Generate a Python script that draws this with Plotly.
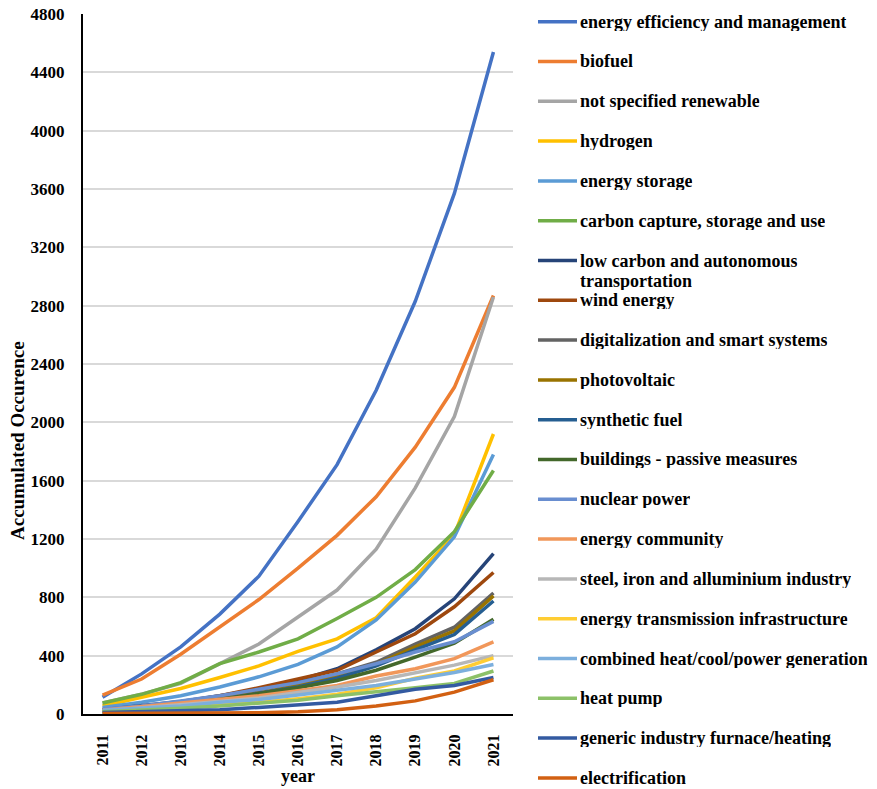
import plotly.graph_objects as go

# Accumulated occurrences of energy-transition topics, 2011-2021
years = [2011, 2012, 2013, 2014, 2015, 2016, 2017, 2018, 2019, 2020, 2021]

series_names = [
    "energy efficiency and management",
    "biofuel",
    "not specified renewable",
    "hydrogen",
    "energy storage",
    "carbon capture, storage and use",
    "low carbon and autonomous<br>transportation",
    "wind energy",
    "digitalization and smart systems",
    "photovoltaic",
    "synthetic fuel",
    "buildings - passive measures",
    "nuclear power",
    "energy community",
    "steel, iron and alluminium industry",
    "energy transmission infrastructure",
    "combined heat/cool/power generation",
    "heat pump",
    "generic industry furnace/heating",
    "electrification",
]

energy_efficiency = [115, 275, 460, 685, 945, 1320, 1710, 2220, 2830, 3570, 4540]
biofuel = [130, 240, 410, 595, 785, 1000, 1225, 1490, 1830, 2240, 2870]
not_specified_renewable = [75, 135, 210, 345, 480, 665, 850, 1130, 1550, 2040, 2860]
hydrogen = [55, 115, 175, 250, 330, 430, 515, 660, 940, 1230, 1920]
energy_storage = [45, 80, 125, 185, 255, 340, 460, 645, 905, 1215, 1780]
carbon_capture = [75, 135, 215, 345, 425, 515, 655, 800, 990, 1250, 1670]
low_carbon_transport = [30, 55, 85, 125, 170, 230, 310, 440, 585, 790, 1100]
wind_energy = [25, 45, 80, 125, 180, 240, 300, 425, 550, 735, 970]
digitalization = [25, 50, 80, 120, 165, 215, 275, 355, 480, 595, 830]
photovoltaic = [20, 40, 70, 105, 145, 195, 255, 340, 460, 570, 810]
synthetic_fuel = [20, 40, 65, 100, 140, 185, 245, 330, 440, 545, 775]
buildings_passive = [20, 40, 65, 100, 140, 180, 230, 300, 390, 485, 650]
nuclear_power = [35, 55, 90, 125, 170, 215, 275, 345, 425, 495, 635]
energy_community = [25, 50, 80, 105, 125, 160, 195, 260, 310, 380, 495]
steel_industry = [20, 40, 60, 85, 110, 145, 185, 230, 285, 335, 400]
transmission = [15, 30, 50, 65, 80, 105, 135, 180, 245, 295, 385]
chp_generation = [25, 40, 55, 80, 100, 130, 165, 195, 240, 285, 340]
heat_pump = [15, 25, 40, 55, 75, 95, 125, 150, 180, 210, 295]
industry_furnace = [10, 15, 20, 30, 45, 65, 80, 125, 170, 195, 250]
electrification = [3, 4, 5, 5, 8, 15, 30, 55, 90, 150, 235]

series_values = [
    energy_efficiency, biofuel, not_specified_renewable, hydrogen, energy_storage,
    carbon_capture, low_carbon_transport, wind_energy, digitalization, photovoltaic,
    synthetic_fuel, buildings_passive, nuclear_power, energy_community, steel_industry,
    transmission, chp_generation, heat_pump, industry_furnace, electrification,
]

colors = [
    "#4472C4", "#ED7D31", "#A5A5A5", "#FFC000", "#5B9BD5",
    "#70AD47", "#264478", "#9E480E", "#636363", "#997300",
    "#255E91", "#43682B", "#698ED0", "#F1975A", "#B7B7B7",
    "#FFCD33", "#7CAFDD", "#8CC168", "#335AA1", "#D26012",
]

y_ticks = [0, 400, 800, 1200, 1600, 2000, 2400, 2800, 3200, 3600, 4000, 4400, 4800]

FONT = "Liberation Serif"

fig = go.Figure()
for name, vals, col in zip(series_names, series_values, colors):
    fig.add_trace(go.Scatter(
        x=years, y=vals, mode="lines", name=name.replace("<br>", " "),
        line=dict(color=col, width=3.5), showlegend=False,
    ))

# Plot area geometry (pixels) used for the hand-placed legend and titles
W, H = 877, 789
L, R, T, B = 83, 513, 14, 714
pw, ph = R - L, B - T

def px_x(x):
    return (x - L) / pw

def px_y(y):
    return (B - y) / ph

# Legend: short line sample + bold label per series, one row every ~40 px
for i, (name, col) in enumerate(zip(series_names, colors)):
    yc = 21.7 + 39.8 * i
    fig.add_shape(type="line", xref="paper", yref="paper",
                  x0=px_x(538), x1=px_x(577), y0=px_y(yc), y1=px_y(yc),
                  line=dict(color=col, width=3.5))
    parts = name.split("<br>")
    for j, part in enumerate(parts):
        fig.add_annotation(
            xref="paper", yref="paper", x=px_x(579), y=px_y(yc + 20.5 * j),
            text="<b>" + part + "</b>", showarrow=False,
            xanchor="left", yanchor="middle", height=18, borderpad=0,
            font=dict(family=FONT, size=18, color="#000000"),
        )

# Axis titles
fig.add_annotation(xref="paper", yref="paper", x=px_x(17), y=px_y(441),
                   text="<b>Accumulated Occurence</b>", textangle=-90,
                   showarrow=False, xanchor="center", yanchor="middle",
                   font=dict(family=FONT, size=19, color="#000000"))
fig.add_annotation(xref="paper", yref="paper", x=px_x(298), y=px_y(776),
                   text="<b>year</b>", showarrow=False,
                   xanchor="center", yanchor="middle",
                   font=dict(family=FONT, size=18, color="#000000"))

fig.update_layout(
    width=W, height=H, autosize=False,
    margin=dict(l=L, r=W - R, t=T, b=H - B, pad=0, autoexpand=False),
    paper_bgcolor="white", plot_bgcolor="white",
    font=dict(family=FONT, color="#000000"),
    showlegend=False,
    xaxis=dict(
        range=[2010.5, 2021.5], tickmode="array", tickvals=years,
        ticktext=["<b>%d</b>" % y for y in years], tickangle=-90,
        showgrid=False, zeroline=False, showline=True, automargin=False,
        linecolor="#000000", linewidth=2, ticks="", ticklabelstandoff=12,
        tickfont=dict(family=FONT, size=16, color="#000000"),
    ),
    yaxis=dict(
        range=[0, 4800], tickmode="array", tickvals=y_ticks,
        ticktext=["<b>%d</b>" % v for v in y_ticks],
        showgrid=True, gridcolor="#D9D9D9", gridwidth=1.5,
        zeroline=False, showline=True, linecolor="#000000", linewidth=2,
        ticks="", ticklabelstandoff=13, automargin=False,
        tickfont=dict(family=FONT, size=17, color="#000000"),
    ),
)

fig.write_html("out.html")
